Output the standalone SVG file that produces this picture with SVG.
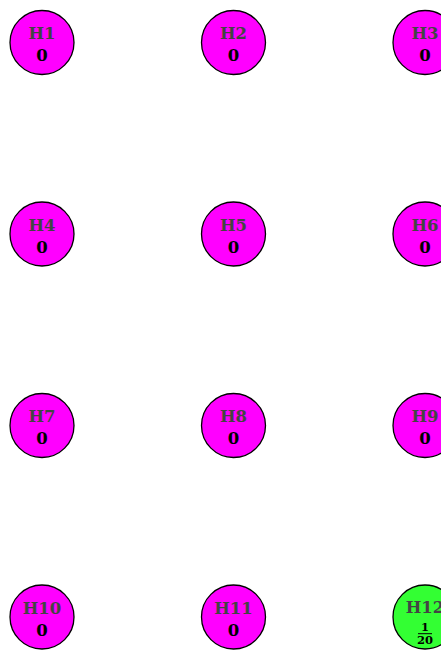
<svg xmlns="http://www.w3.org/2000/svg" width="441" height="650" viewBox="0 0 441 650">
<style>
.n{stroke:#000;stroke-width:1.3}
.m{fill:#ff00ff}
.g{fill:#33ff33}
text{font-family:"DejaVu Serif","Liberation Serif",serif;font-weight:bold;text-anchor:middle}
.l{fill:#444;font-size:16.5px}
.v{fill:#000;font-size:16.5px}
.f{fill:#000;font-size:11.5px}
</style>
<rect width="441" height="650" fill="#fff"/>
<g id="H1"><circle class="n m" cx="42" cy="42.5" r="32"/><text class="l" x="42" y="39">H1</text><text class="v" x="42" y="61">0</text></g>
<g id="H2"><circle class="n m" cx="233.5" cy="42.5" r="32"/><text class="l" x="233.5" y="39">H2</text><text class="v" x="233.5" y="61">0</text></g>
<g id="H3"><circle class="n m" cx="425" cy="42.5" r="32"/><text class="l" x="425" y="39">H3</text><text class="v" x="425" y="61">0</text></g>
<g id="H4"><circle class="n m" cx="42" cy="234" r="32"/><text class="l" x="42" y="230.5">H4</text><text class="v" x="42" y="252.5">0</text></g>
<g id="H5"><circle class="n m" cx="233.5" cy="234" r="32"/><text class="l" x="233.5" y="230.5">H5</text><text class="v" x="233.5" y="252.5">0</text></g>
<g id="H6"><circle class="n m" cx="425" cy="234" r="32"/><text class="l" x="425" y="230.5">H6</text><text class="v" x="425" y="252.5">0</text></g>
<g id="H7"><circle class="n m" cx="42" cy="425.5" r="32"/><text class="l" x="42" y="422">H7</text><text class="v" x="42" y="444">0</text></g>
<g id="H8"><circle class="n m" cx="233.5" cy="425.5" r="32"/><text class="l" x="233.5" y="422">H8</text><text class="v" x="233.5" y="444">0</text></g>
<g id="H9"><circle class="n m" cx="425" cy="425.5" r="32"/><text class="l" x="425" y="422">H9</text><text class="v" x="425" y="444">0</text></g>
<g id="H10"><circle class="n m" cx="42" cy="617" r="32"/><text class="l" x="42" y="613.5">H10</text><text class="v" x="42" y="635.5">0</text></g>
<g id="H11"><circle class="n m" cx="233.5" cy="617" r="32"/><text class="l" x="233.5" y="613.5">H11</text><text class="v" x="233.5" y="635.5">0</text></g>
<g id="H12"><circle class="n g" cx="425" cy="617" r="32"/><text class="l" x="425" y="613">H12</text><text class="f" x="425" y="631">1</text><line x1="418" y1="633.7" x2="432" y2="633.7" stroke="#000" stroke-width="1"/><text class="f" x="425" y="643.5">20</text></g>
<g id="connectors"></g>
</svg>
